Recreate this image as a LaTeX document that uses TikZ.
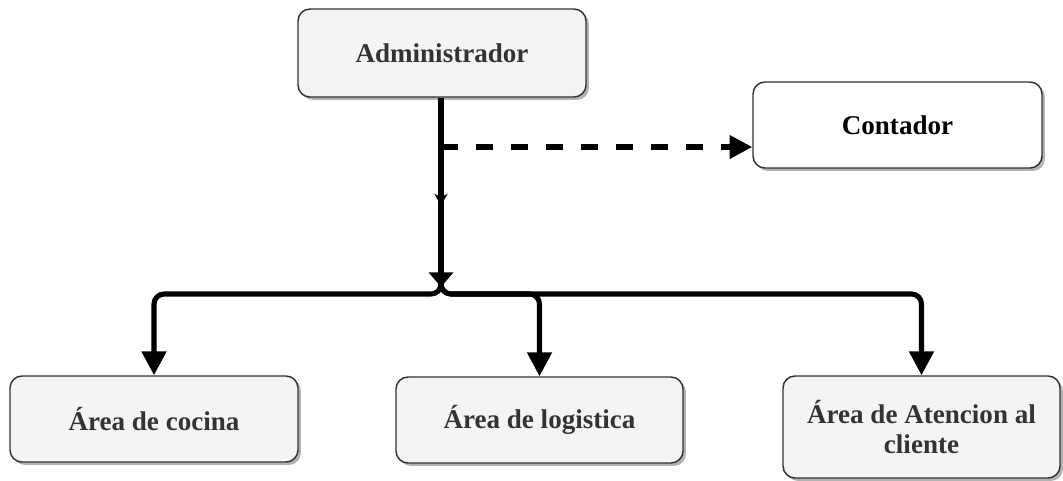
\documentclass[tikz,border=0pt]{standalone}
\usepackage{fontspec}
\setmainfont{Liberation Serif}
\usetikzlibrary{arrows.meta,shadows,calc,decorations.markings}
\definecolor{boxfill}{HTML}{F4F4F4}
\definecolor{boxline}{HTML}{333333}
\definecolor{txt}{HTML}{333333}
\begin{document}
\begin{tikzpicture}[x=0.75pt,y=-0.75pt,
  box/.style={draw=boxline,line width=1.1pt,rounded corners=9pt,fill=boxfill,
    drop shadow={shadow xshift=2.2pt,shadow yshift=-2.2pt,fill=black,opacity=0.3},
    font=\fontsize{20.3}{22.5}\selectfont\bfseries,text=txt,align=center,inner sep=0pt},
  conn/.style={line width=3.8pt,black},
  branch/.style={conn,rounded corners=7.5pt,-{Triangle[width=18pt,length=18pt]}},
]
\useasboundingbox (0,0) rectangle (1063,480);
\node[box,minimum width=216pt,minimum height=66pt] (admin) at (442,53) {Administrador};
\node[box,fill=white,text=black,minimum width=216.75pt,minimum height=64.5pt] (cont) at (897.5,125) {Contador};
\node[box,minimum width=216pt,minimum height=64.5pt] (coc) at (154,419) {Área de cocina};
\node[box,minimum width=215.25pt,minimum height=64.5pt] (log) at (539.5,420) {Área de logistica};
\node[box,minimum width=207.75pt,minimum height=76.5pt] (ate) at (921.5,427) {Área de Atencion al\\cliente};
\coordinate (T) at (441,287);
\coordinate (D) at (441,147);
\draw[conn,-{Triangle[width=18pt,length=11pt]},
  postaction={decorate,decoration={markings,
    mark=at position 0.57 with {\arrow[line width=1pt]{Stealth[width=10pt,length=9pt]}}}}]
  (admin.south -| T) -- (T);
\draw[conn,dash pattern=on 12.75pt off 13.5pt,-{Triangle[width=17pt,length=17pt]}]
  (D) -- (D -| cont.west);
\draw[branch] (T) -- ++(0,7) -| (coc.north);
\draw[branch] (T) -- ++(0,7) -| (log.north);
\draw[branch] (T) -- ++(0,7) -| (ate.north);
\end{tikzpicture}
\end{document}
